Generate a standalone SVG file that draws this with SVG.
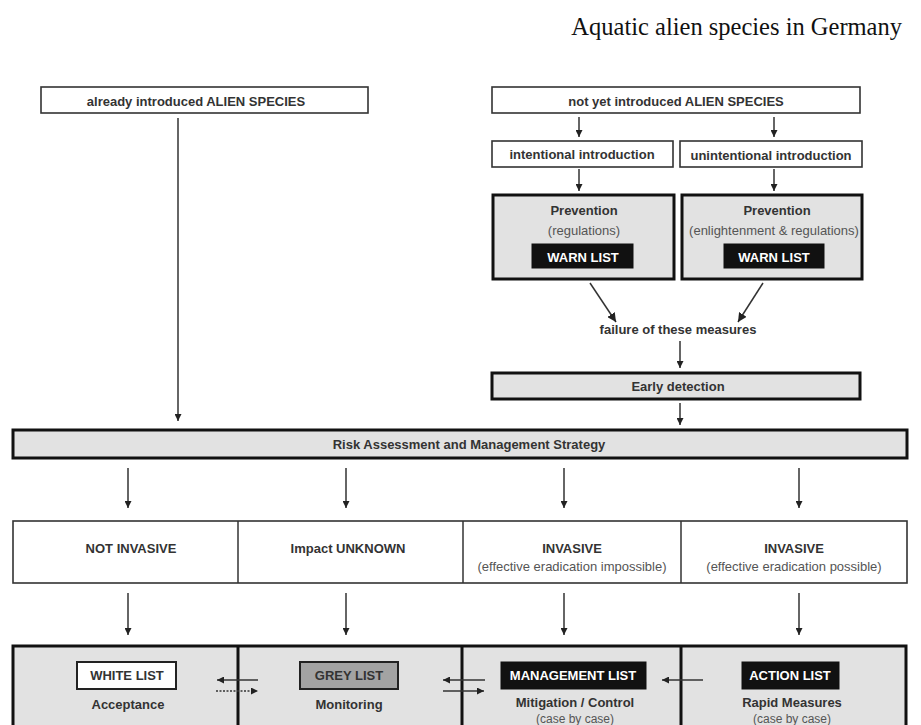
<svg xmlns="http://www.w3.org/2000/svg" width="921" height="725" viewBox="0 0 921 725">
<style>
text{font-family:"Liberation Sans",Arial,sans-serif;fill:#333;text-anchor:middle}
.b{font-weight:bold;font-size:13px}
.r{font-size:13px;fill:#555}
.s{font-size:12px;fill:#555}
.w{fill:#fff;font-weight:bold;font-size:13px}
.thin{fill:#fff;stroke:#333;stroke-width:1.6}
.thick{fill:#e2e2e2;stroke:#111;stroke-width:3}
.blk{fill:#111;stroke:#111}
.con{stroke:#333;stroke-width:1.5;fill:none}
.title{font-family:"Liberation Serif","Times New Roman",serif;font-size:24.5px;fill:#111;text-anchor:end}
</style>
<defs>
<marker id="ah" viewBox="0 0 10 10" refX="10" refY="5" markerWidth="7" markerHeight="7" orient="auto" markerUnits="userSpaceOnUse">
<path d="M0,0 L10,5 L0,10 z" fill="#222"/>
</marker>
<marker id="ah2" viewBox="0 0 10 10" refX="10" refY="5" markerWidth="9" markerHeight="9" orient="auto" markerUnits="userSpaceOnUse">
<path d="M0,0 L10,5 L0,10 z" fill="#222"/>
</marker>
</defs>
<rect width="921" height="725" fill="#fff"/>
<text class="title" x="902" y="35">Aquatic alien species in Germany</text>

<g id="already">
<rect class="thin" x="41" y="87" width="327" height="26"/>
<text class="b" x="196" y="106">already introduced ALIEN SPECIES</text>
</g>
<g id="notyet">
<rect class="thin" x="492" y="87" width="368" height="26"/>
<text class="b" x="676" y="106">not yet introduced ALIEN SPECIES</text>
</g>
<g id="intentional">
<rect class="thin" x="492" y="141" width="181" height="26"/>
<text class="b" x="582" y="159">intentional introduction</text>
</g>
<g id="unintentional">
<rect class="thin" x="680" y="141" width="182" height="26"/>
<text class="b" x="771" y="160">unintentional introduction</text>
</g>
<g id="prev1">
<rect class="thick" x="493" y="195" width="181" height="84"/>
<text class="b" x="584" y="215">Prevention</text>
<text class="r" x="584" y="235">(regulations)</text>
<rect class="blk" x="532" y="244" width="101" height="24"/>
<text class="w" x="583" y="262">WARN LIST</text>
</g>
<g id="prev2">
<rect class="thick" x="682" y="195" width="180" height="84"/>
<text class="b" x="777" y="215">Prevention</text>
<text class="r" x="774" y="235">(enlightenment &amp; regulations)</text>
<rect class="blk" x="724" y="244" width="100" height="24"/>
<text class="w" x="774" y="262">WARN LIST</text>
</g>
<g id="failure">
<text class="b" x="678" y="334">failure of these measures</text>
</g>
<g id="early">
<rect class="thick" x="492" y="373" width="368" height="26"/>
<text class="b" x="678" y="391">Early detection</text>
</g>
<g id="risk">
<rect class="thick" x="13" y="430" width="894" height="28"/>
<text class="b" x="469" y="449">Risk Assessment and Management Strategy</text>
</g>
<g id="categories">
<rect class="thin" x="13" y="521" width="894" height="62"/>
<line class="con" x1="238" y1="521" x2="238" y2="583"/>
<line class="con" x1="463" y1="521" x2="463" y2="583"/>
<line class="con" x1="681" y1="521" x2="681" y2="583"/>
</g>
<g id="notinvasive"><text class="b" x="131" y="553">NOT INVASIVE</text></g>
<g id="unknown"><text class="b" x="348" y="553">Impact UNKNOWN</text></g>
<g id="inv1"><text class="b" x="572" y="553">INVASIVE</text><text class="r" x="572" y="571">(effective eradication impossible)</text></g>
<g id="inv2"><text class="b" x="794" y="553">INVASIVE</text><text class="r" x="794" y="571">(effective eradication possible)</text></g>

<g id="lists">
<rect class="thick" x="13" y="646" width="893" height="90"/>
<line stroke="#111" stroke-width="3" x1="238" y1="646" x2="238" y2="725"/>
<line stroke="#111" stroke-width="3" x1="462" y1="646" x2="462" y2="725"/>
<line stroke="#111" stroke-width="3" x1="681" y1="646" x2="681" y2="725"/>
</g>
<g id="white">
<rect x="77" y="662" width="99" height="27" fill="#fff" stroke="#222" stroke-width="2"/>
<text class="b" x="127" y="680">WHITE LIST</text>
<text class="b" x="128" y="709">Acceptance</text>
</g>
<g id="grey">
<rect x="300" y="662" width="98" height="27" fill="#a3a3a3" stroke="#222" stroke-width="2"/>
<text class="b" x="349" y="680">GREY LIST</text>
<text class="b" x="349" y="709">Monitoring</text>
</g>
<g id="management">
<rect class="blk" x="501" y="662" width="145" height="27"/>
<text class="w" x="573" y="680">MANAGEMENT LIST</text>
<text class="b" x="575" y="707">Mitigation / Control</text>
<text class="s" x="575" y="723">(case by case)</text>
</g>
<g id="action">
<rect class="blk" x="742" y="662" width="97" height="27"/>
<text class="w" x="790" y="680">ACTION LIST</text>
<text class="b" x="792" y="707">Rapid Measures</text>
<text class="s" x="792" y="723">(case by case)</text>
</g>

<g id="connectors">
<line class="con" x1="178" y1="118" x2="178" y2="421" marker-end="url(#ah)"/>
<line class="con" x1="579" y1="117" x2="579" y2="137" marker-end="url(#ah)"/>
<line class="con" x1="774" y1="117" x2="774" y2="137" marker-end="url(#ah)"/>
<line class="con" x1="579" y1="169" x2="579" y2="191" marker-end="url(#ah)"/>
<line class="con" x1="774" y1="169" x2="774" y2="191" marker-end="url(#ah)"/>
<line class="con" x1="590" y1="283" x2="616" y2="322" marker-end="url(#ah2)"/>
<line class="con" x1="763" y1="283" x2="738" y2="322" marker-end="url(#ah2)"/>
<line class="con" x1="680" y1="341" x2="680" y2="368" marker-end="url(#ah)"/>
<line class="con" x1="680" y1="403" x2="680" y2="425" marker-end="url(#ah)"/>
<line class="con" x1="128" y1="468" x2="128" y2="508" marker-end="url(#ah)"/>
<line class="con" x1="346" y1="468" x2="346" y2="508" marker-end="url(#ah)"/>
<line class="con" x1="564" y1="468" x2="564" y2="508" marker-end="url(#ah)"/>
<line class="con" x1="799" y1="468" x2="799" y2="508" marker-end="url(#ah)"/>
<line class="con" x1="128" y1="593" x2="128" y2="635" marker-end="url(#ah)"/>
<line class="con" x1="346" y1="593" x2="346" y2="635" marker-end="url(#ah)"/>
<line class="con" x1="564" y1="593" x2="564" y2="635" marker-end="url(#ah)"/>
<line class="con" x1="799" y1="593" x2="799" y2="635" marker-end="url(#ah)"/>
<line class="con" x1="258" y1="680" x2="217" y2="680" marker-end="url(#ah)"/>
<line class="con" x1="216" y1="691" x2="258" y2="691" stroke-dasharray="2,1.5" marker-end="url(#ah)"/>
<line class="con" x1="485" y1="680" x2="443" y2="680" marker-end="url(#ah)"/>
<line class="con" x1="443" y1="691" x2="484" y2="691" marker-end="url(#ah)"/>
<line class="con" x1="703" y1="680" x2="662" y2="680" marker-end="url(#ah)"/>
</g>
</svg>
